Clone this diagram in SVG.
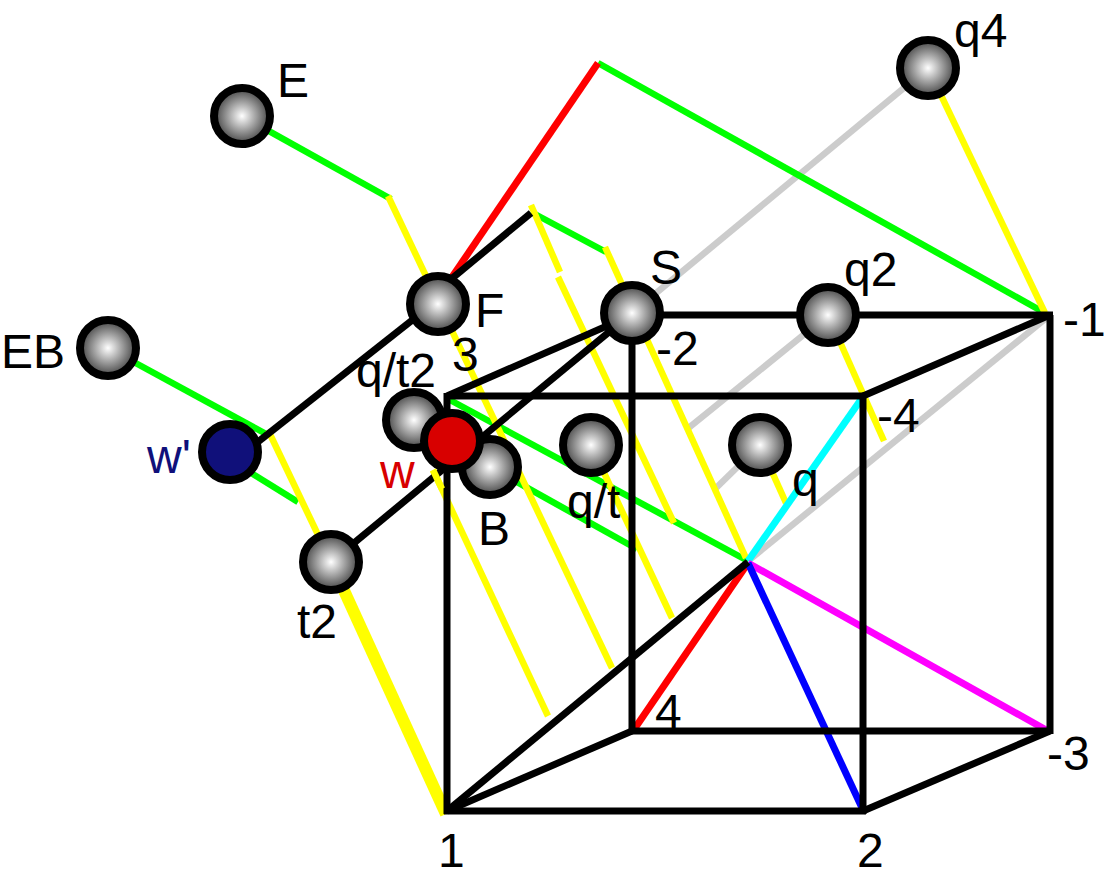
<svg xmlns="http://www.w3.org/2000/svg" width="1109" height="886" viewBox="0 0 1109 886">
<style>
line{stroke-width:7;fill:none}
.y{stroke:#ffff00;stroke-width:6.5}.g{stroke:#00ff00;stroke-width:6.5}.k{stroke:#000}.a{stroke:#cccccc;stroke-width:6.5}.r{stroke:#ff0000}.c{stroke:#00ffff}.m{stroke:#ff00ff}.b{stroke:#0000ff}
circle{stroke:#000;stroke-width:8}
.ball{fill:url(#ball)}
text{font-family:"Liberation Sans",Arial,sans-serif;font-size:48px;fill:#000}
</style>
<defs>
<radialGradient id="ball" cx="50%" cy="50%" r="50%"><stop offset="0" stop-color="#ffffff"/><stop offset="0.85" stop-color="#5e5e5e"/><stop offset="1" stop-color="#555555"/></radialGradient>
</defs>
<rect width="1109" height="886" fill="#ffffff"/>
<g id="connectors">
<line class="a" x1="632" y1="313" x2="928" y2="68"/>
<line class="a" x1="686" y1="430" x2="828" y2="315"/>
<line class="a" x1="716" y1="488" x2="760" y2="445"/>
<line class="a" x1="748" y1="561" x2="1050" y2="315"/>
<line class="g" x1="242" y1="116" x2="391" y2="199"/>
<line class="g" x1="108" y1="348" x2="268" y2="435"/>
<line class="g" x1="235" y1="463" x2="298" y2="502"/>
<line class="g" x1="531" y1="212" x2="606" y2="252"/>
<line class="g" x1="598" y1="63" x2="1045" y2="313"/>
<line class="g" x1="450" y1="400" x2="748" y2="561"/>
<line class="g" x1="490" y1="467" x2="637" y2="549"/>
<line class="y" x1="388" y1="196" x2="612" y2="668"/>
<line class="y" x1="433" y1="470" x2="548" y2="716"/>
<line class="y" x1="531" y1="205" x2="560" y2="272"/>
<line class="y" x1="558" y1="277" x2="674" y2="523"/>
<line class="y" x1="605" y1="247" x2="746" y2="558"/>
<line class="y" x1="591" y1="445" x2="672" y2="618"/>
<line class="y" x1="760" y1="445" x2="786" y2="503"/>
<line class="y" x1="828" y1="315" x2="884" y2="441"/>
<line class="y" x1="928" y1="68" x2="1045" y2="313"/>
<line class="y" x1="268" y1="430" x2="331" y2="562"/>
<line class="y" x1="331" y1="562" x2="446" y2="814" style="stroke-width:12"/>
<line class="r" x1="598" y1="63" x2="450" y2="280"/>
<line class="r" x1="748" y1="563" x2="633" y2="731"/>
<line class="c" x1="748" y1="561" x2="862" y2="398"/>
<line class="m" x1="748" y1="563" x2="1048" y2="731"/>
<line class="b" x1="748" y1="563" x2="863" y2="810"/>
<line class="k" x1="531" y1="213" x2="438" y2="290"/>
<line class="k" x1="420" y1="314" x2="254" y2="445"/>
<line class="k" x1="632" y1="313" x2="331" y2="562"/>
<line class="k" x1="748" y1="562" x2="447" y2="811"/>
<line class="k" x1="447" y1="396" x2="863" y2="396"/>
<line class="k" x1="447" y1="393" x2="447" y2="814"/>
<line class="k" x1="444" y1="811" x2="866" y2="811"/>
<line class="k" x1="863" y1="396" x2="863" y2="814"/>
<line class="k" x1="632" y1="315" x2="1053" y2="315"/>
<line class="k" x1="1050" y1="315" x2="1050" y2="734"/>
<line class="k" x1="632" y1="315" x2="632" y2="731"/>
<line class="k" x1="630" y1="731" x2="1050" y2="731"/>
<line class="k" x1="447" y1="396" x2="632" y2="315"/>
<line class="k" x1="863" y1="396" x2="1050" y2="315"/>
<line class="k" x1="447" y1="811" x2="632" y2="731"/>
<line class="k" x1="863" y1="811" x2="1050" y2="731"/>
</g>
<g id="node-E"><circle class="ball" cx="242" cy="116" r="28"/><text x="277" y="97">E</text></g>
<g id="node-q4"><circle class="ball" cx="928" cy="68" r="28"/><text x="954" y="47">q4</text></g>
<g id="node-F"><circle class="ball" cx="438" cy="304" r="28"/><text x="475" y="327">F</text></g>
<g id="node-S"><circle class="ball" cx="632" cy="313" r="28"/><text x="650" y="284">S</text></g>
<g id="node-q2"><circle class="ball" cx="828" cy="315" r="28"/><text x="844" y="286">q2</text></g>
<g id="node-EB"><circle class="ball" cx="108" cy="348" r="28"/><text x="1" y="368">EB</text></g>
<g id="node-qt2"><circle class="ball" cx="414" cy="420" r="28"/><text x="356" y="387">q/t2</text></g>
<g id="node-B"><circle class="ball" cx="490" cy="467" r="28"/><text x="478" y="545">B</text></g>
<g id="node-w"><circle cx="452" cy="441" r="28" fill="#d80000"/><text x="380" y="488" style="fill:#d80000">w</text></g>
<g id="node-qt"><circle class="ball" cx="591" cy="445" r="28"/><text x="567" y="518">q/t</text></g>
<g id="node-q"><circle class="ball" cx="760" cy="445" r="28"/><text x="792" y="496">q</text></g>
<g id="node-wp"><circle cx="230" cy="452" r="28" fill="#10107a"/><text x="147" y="473" style="fill:#10107a">w'</text></g>
<g id="node-t2"><circle class="ball" cx="331" cy="562" r="28"/><text x="297" y="638">t2</text></g>
<g id="tips">
<line class="y" x1="433" y1="470" x2="442" y2="489"/>
</g>
<g id="labels">
<text x="1063" y="336">-1</text>
<text x="656" y="365">-2</text>
<text x="452" y="371">3</text>
<text x="877" y="432">-4</text>
<text x="655" y="728">4</text>
<text x="1047" y="770">-3</text>
<text x="438" y="867">1</text>
<text x="857" y="867">2</text>
</g>
</svg>
